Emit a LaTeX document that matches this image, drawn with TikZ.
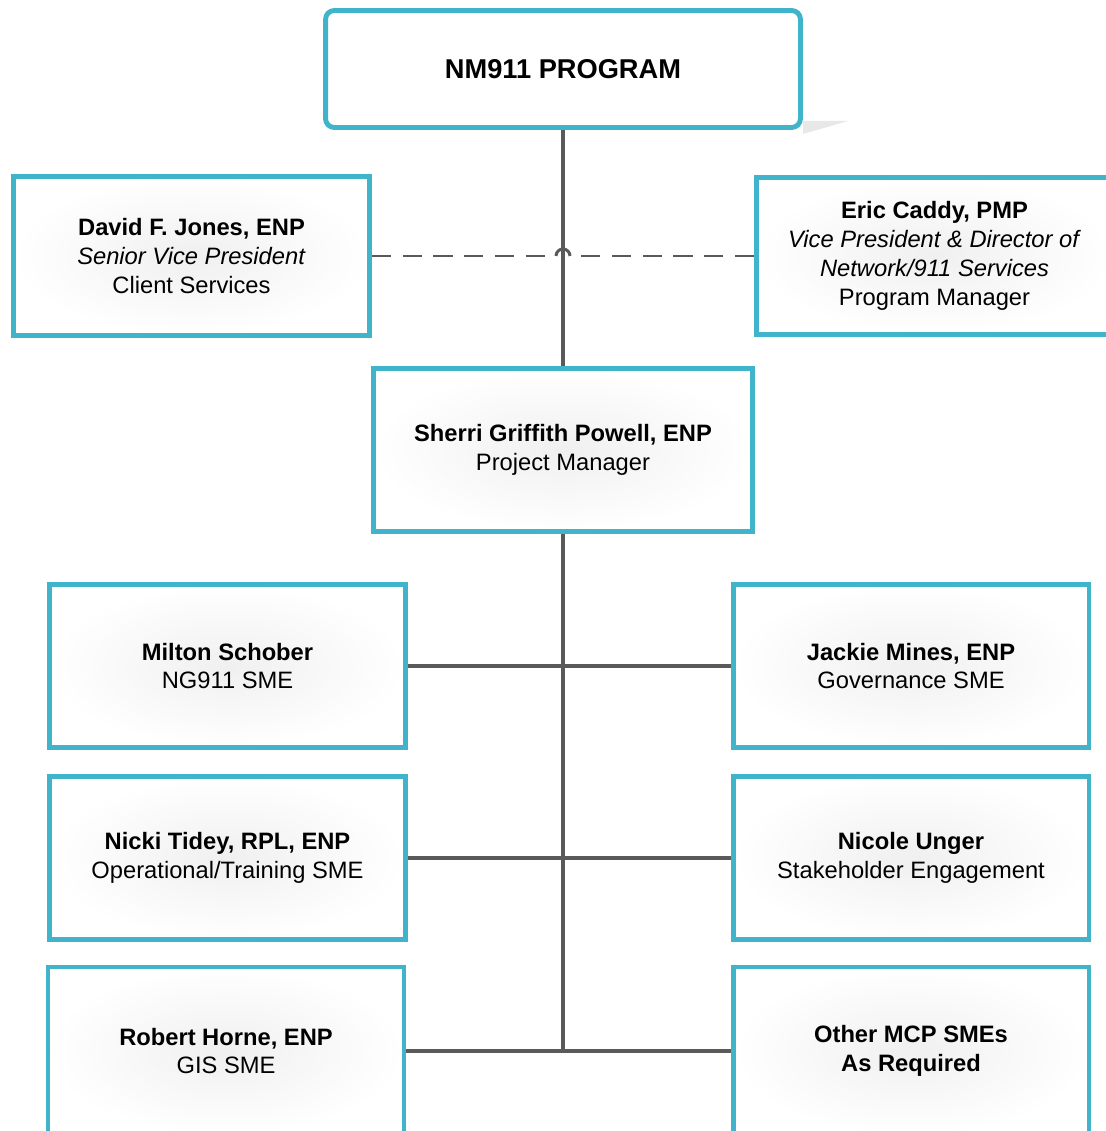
\documentclass[tikz,border=0pt]{standalone}
\usepackage{fontspec}
\setmainfont{Liberation Sans}
\definecolor{tealline}{HTML}{41B3CB}
\definecolor{linkgray}{HTML}{5A5A5A}
\tikzset{
	staffbox/.style={draw=tealline,line width=2.8pt,inner color=black!6,outer color=white,
		align=center,font=\fontsize{13.5}{16.4}\selectfont,
		minimum width=7.12cm,minimum height=3.26cm},
	headbox/.style={draw=tealline,line width=2.8pt,fill=white,rounded corners=5pt,
		font=\fontsize{15.5}{18}\selectfont\bfseries,
		minimum width=9.5cm,minimum height=2.34cm},
	link/.style={draw=linkgray,line width=2pt},
	dashlink/.style={link,line width=1.7pt,dash pattern=on 11pt off 6.5pt},
}

\begin{document}
\begin{tikzpicture}[x=0.02cm,y=0.02cm]
	\useasboundingbox (0,0) rectangle (1105,-1131);

	\fill[black!9] (803,-121) -- (848,-121) -- (803,-134) -- cycle;
	\node[headbox] (program) at (563,-69) {NM911 PROGRAM};

	\node[staffbox,minimum height=3.18cm] (jones) at (191.5,-256)
		{\textbf{David F. Jones, ENP}\\\textit{Senior Vice President}\\Client Services};
	\node[staffbox,minimum height=3.14cm] (caddy) at (934.5,-256)
		{\textbf{Eric Caddy, PMP}\\\textit{Vice President \& Director of}\\\textit{Network/911 Services}\\Program Manager};
	\node[staffbox,minimum width=7.58cm] (powell) at (563,-450)
		{\textbf{Sherri Griffith Powell, ENP}\\Project Manager};

	\node[staffbox] (schober) at (227.5,-666) {\textbf{Milton Schober}\\NG911 SME};
	\node[staffbox] (mines) at (911,-666) {\textbf{Jackie Mines, ENP}\\Governance SME};
	\node[staffbox] (tidey) at (227.5,-858) {\textbf{Nicki Tidey, RPL, ENP}\\Operational/Training SME};
	\node[staffbox] (unger) at (911,-858) {\textbf{Nicole Unger}\\Stakeholder Engagement};
	\node[staffbox,minimum height=3.36cm] (horne) at (226,-1051) {\textbf{Robert Horne, ENP}\\GIS SME};
	\node[staffbox,minimum height=3.36cm] (others) at (911,-1051) {\textbf{Other MCP SMEs}\\\textbf{As Required}};

	\draw[link] (program.south) -- (powell.north);
	\coordinate (hopl) at ([xshift=-0.14cm]program.south |- jones.east);
	\coordinate (hopr) at ([xshift=0.14cm]program.south |- jones.east);
	\draw[dashlink] (jones.east) -- (hopl);
	\draw[link,line width=1.7pt] (hopl) arc[start angle=180,end angle=0,radius=0.14cm];
	\draw[dashlink] (caddy.west) -- (hopr);

	\draw[link] (powell.south) -- (powell.south |- horne.east);
	\draw[link] (schober.east) -- (mines.west);
	\draw[link] (tidey.east) -- (unger.west);
	\draw[link] (horne.east) -- (others.west);
\end{tikzpicture}
\end{document}
